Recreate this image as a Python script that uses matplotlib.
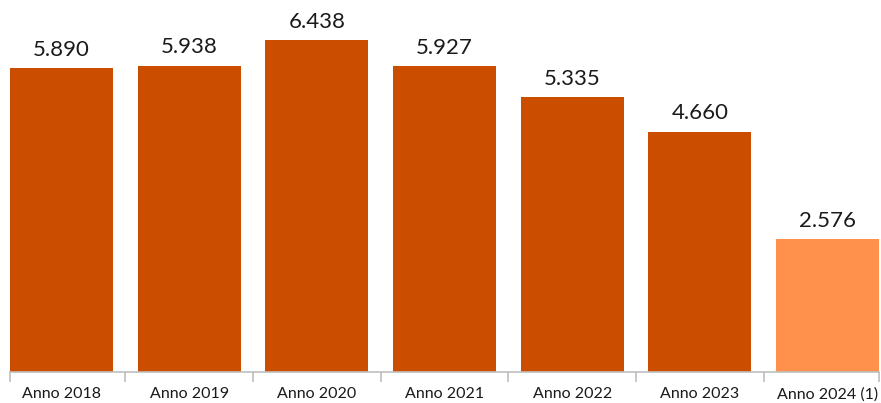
import numpy as np
import matplotlib.pyplot as plt

categorie = ['Anno 2018', 'Anno 2019', 'Anno 2020', 'Anno 2021', 'Anno 2022', 'Anno 2023', 'Anno 2024 (1)']
valori = [5890, 5938, 6438, 5927, 5335, 4660, 2576]
colori = ['#CB4D00'] * 6 + ['#FF914C']

plt.rcParams['font.family'] = ['Lato', 'DejaVu Sans']

fig = plt.figure(figsize=(8.81, 4.03), dpi=100)
ax = fig.add_axes([10/881, 31/403, 869/881, 372/403])

x = np.arange(len(categorie))
larghezza = 0.806
ax.bar(x, valori, width=larghezza, color=colori)

for xi, v in zip(x, valori):
    testo = f'{v:,}'.replace(',', '.')
    ax.annotate(testo, (xi, v), xytext=(0, 6), textcoords='offset points',
                ha='center', va='bottom', fontsize=16, color='#1a1a1a')

ax.set_xlim(-larghezza/2, len(categorie) - 1 + larghezza/2)
ax.set_ylim(0, max(valori) * 372 / 332)

# tick di separazione tra le categorie
bordi = [-larghezza/2] + [i + 0.5 for i in range(len(categorie) - 1)] + [len(categorie) - 1 + larghezza/2]
ax.set_xticks(bordi)
ax.set_xticklabels([])
ax.tick_params(axis='x', length=7, color='#BFBFBF', width=1.2)
ax.set_xticks(x, minor=True)
ax.set_xticklabels(categorie, minor=True, fontsize=11.5, color='#1a1a1a')
ax.tick_params(axis='x', which='minor', length=0, pad=11)

ax.set_yticks([])
for s in ['top', 'left', 'right']:
    ax.spines[s].set_visible(False)
ax.spines['bottom'].set_color('#BFBFBF')
ax.spines['bottom'].set_linewidth(1.2)

fig.savefig('out.png', dpi=100)
